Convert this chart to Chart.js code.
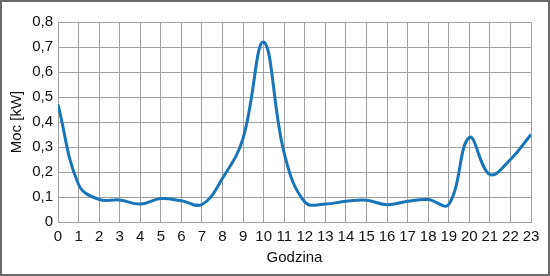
<!DOCTYPE html>
<html>
<head>
<meta charset="utf-8">
<script src="https://cdn.jsdelivr.net/npm/chart.js@4/dist/chart.umd.min.js"></script>
<style>
  html, body { margin: 0; padding: 0; background: #ffffff; }
  .chart-container { position: relative; width: 550px; height: 276px; box-sizing: border-box; border: 2px solid #6a6a6a; }
</style>
</head>
<body>
<div class="chart-container"><canvas id="powerChart"></canvas></div>
<script>
const hours = [0, 1, 2, 3, 4, 5, 6, 7, 8, 9, 10, 11, 12, 13, 14, 15, 16, 17, 18, 19, 20, 21, 22, 23];
const power = [0.47, 0.15, 0.09, 0.088, 0.072, 0.094, 0.085, 0.07, 0.175, 0.335, 0.72, 0.275, 0.08, 0.072, 0.083, 0.087, 0.069, 0.083, 0.09, 0.07, 0.338, 0.19, 0.25, 0.35];
const yTicks = [0, 0.1, 0.2, 0.3, 0.4, 0.5, 0.6, 0.7, 0.8];

const fontFamily = "'Liberation Sans Narrow', 'Liberation Sans', Arial, sans-serif";
Chart.defaults.color = '#111111';
Chart.defaults.font.family = fontFamily;
Chart.defaults.font.size = 15;

const ctx = document.getElementById('powerChart').getContext('2d');

new Chart(ctx, {
  type: 'line',
  data: {
    datasets: [{
      label: 'Moc',
      data: hours.map((h, i) => ({ x: h, y: power[i] })),
      borderColor: '#1875b8',
      borderWidth: 3,
      pointRadius: 0,
      tension: 0.4,
      fill: false
    }]
  },
  options: {
    responsive: true,
    maintainAspectRatio: false,
    animation: false,
    layout: { padding: { left: 0, right: 17, top: 20, bottom: 7 } },
    plugins: {
      legend: { display: false },
      tooltip: { enabled: false }
    },
    scales: {
      x: {
        type: 'linear',
        min: 0,
        max: 23,
        afterBuildTicks: scale => { scale.ticks = hours.map(h => ({ value: h })); },
        ticks: { padding: 6, maxRotation: 0, autoSkip: false, font: { size: 15 } },
        title: { display: true, text: 'Godzina', font: { size: 15 }, padding: { top: 0, bottom: 0 } },
        grid: { color: '#a0a0a0', lineWidth: 1, drawTicks: false },
        border: { color: '#a0a0a0' },
        afterFit: scale => { scale.height = 45; }
      },
      y: {
        min: 0,
        max: 0.8,
        afterBuildTicks: scale => { scale.ticks = yTicks.map(v => ({ value: v })); },
        ticks: {
          padding: 5,
          font: { size: 15 },
          callback: value => value === 0 ? '0' : value.toFixed(1).replace('.', ',')
        },
        title: { display: true, text: 'Moc [kW]', font: { size: 15 }, padding: { top: 6, bottom: 0 } },
        grid: { color: '#a0a0a0', lineWidth: 1, drawTicks: false },
        border: { color: '#a0a0a0' },
        afterFit: scale => { scale.width = 56; }
      }
    }
  }
});
</script>
</body>
</html>
